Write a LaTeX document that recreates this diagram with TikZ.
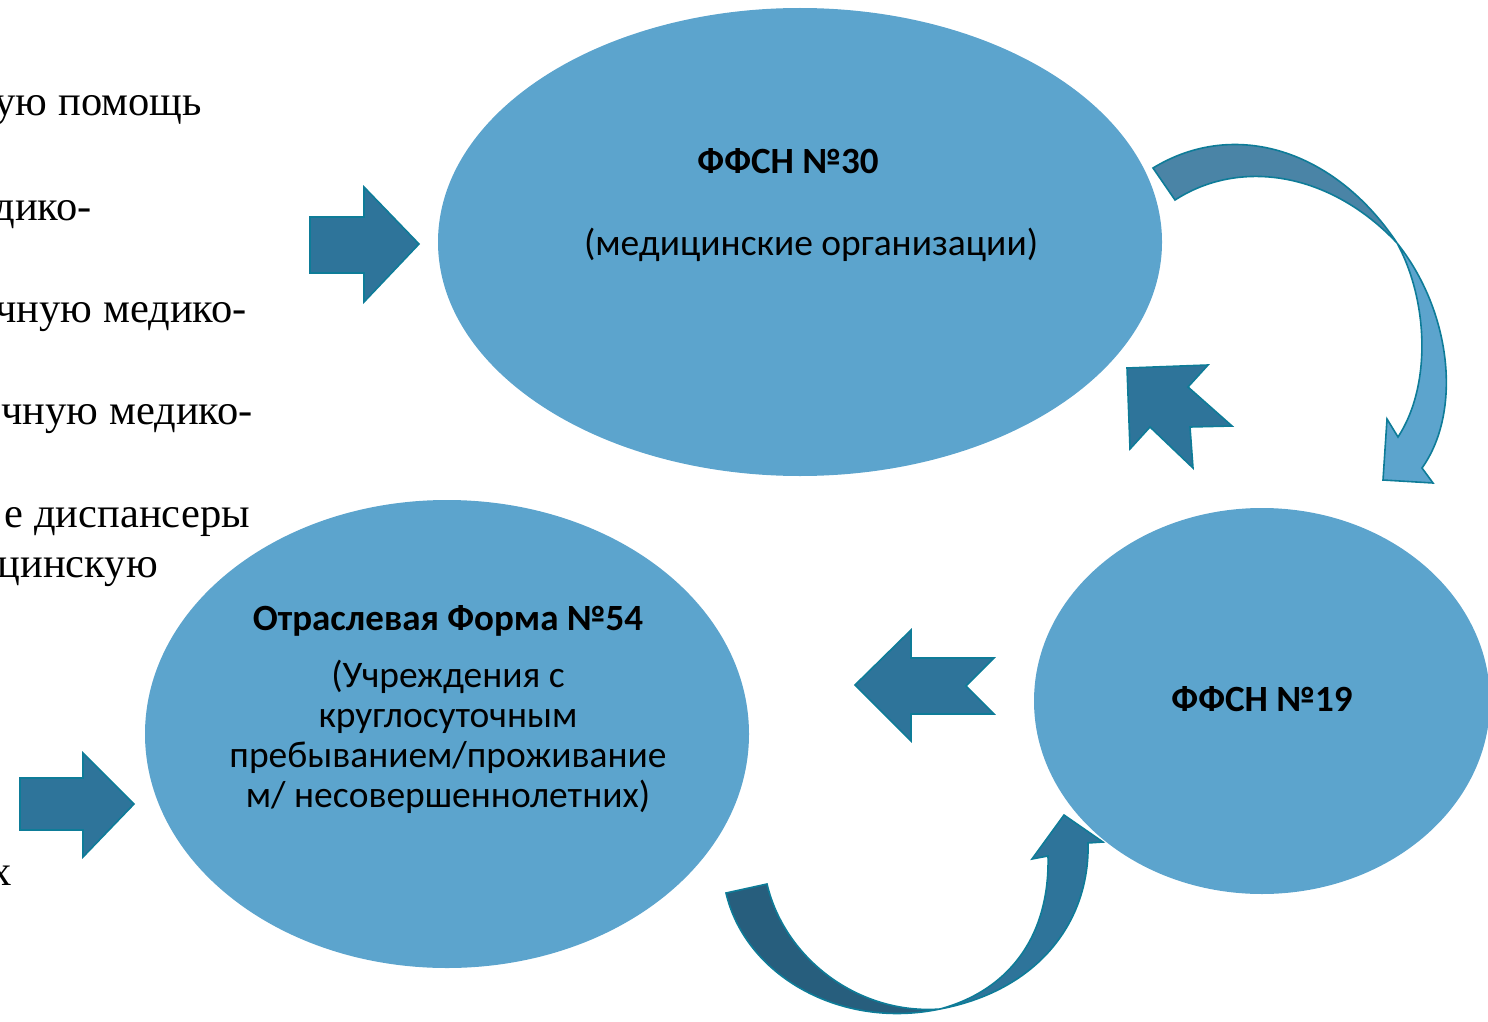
\documentclass[tikz,border=0pt]{standalone}
\usepackage{fontspec}
\setmainfont{Liberation Serif}
\newfontfamily\calibri{Carlito}
\usepackage{xcolor}
\usepackage{tikz}
\usetikzlibrary{shapes.geometric}

\definecolor{ellfill}{RGB}{92,164,205}
\definecolor{arrdark}{RGB}{46,116,154}
\definecolor{arredge}{RGB}{14,124,152}
\definecolor{curvback}{RGB}{74,132,166}
\definecolor{curvdeep}{RGB}{39,94,125}

\begin{document}
\begin{tikzpicture}[x=1pt,y=-1pt]
        \tikzstyle{every node}+=[inner sep=0pt]
        \tikzstyle{oval}=[ellipse, fill=ellfill, draw=none]
        \tikzstyle{blockarr}=[fill=arrdark, draw=arredge, line width=1.6pt, line join=miter]
        \tikzstyle{lefttext}=[anchor=base east, font=\fontsize{42.5}{50}\selectfont]
        \tikzstyle{head}=[font=\calibri\bfseries\fontsize{37}{44}\selectfont]
        \tikzstyle{body}=[font=\calibri\fontsize{37.5}{40}\selectfont, align=center]
        \useasboundingbox (0,0) rectangle (1488,1022);
        \clip (0,0) rectangle (1488,1022);
        % cut-off list on the left
        \node [lefttext] (l1) at (202,116) {ую помощь};
        \node [lefttext] (l2) at (92,220) {дико-};
        \node [lefttext] (l3) at (247,322) {чную медико-};
        \node [lefttext] (l4) at (253,424) {чную медико-};
        \node [lefttext] (l5) at (250,527) {е диспансеры};
        \node [lefttext] (l6) at (158,577) {цинскую};
        \node [lefttext] (l7) at (12,885) {х};
        % ovals
        \node [oval, minimum width=724pt, minimum height=468pt] (f30) at (800,242) {};
        \node [oval, minimum width=604pt, minimum height=468pt] (f54) at (447,734) {};
        \node [oval, minimum width=456pt, minimum height=386pt] (f19) at (1262,701) {};
        \node [head] (f30t) at (788,161) {ФФСН №30};
        \node [body] (f30s) at (811,245) {(медицинские организации)};
        \node [head] (f54t) at (448,621) {Отраслевая Форма №54};
        \node [body] (f54s) at (448,737) {(Учреждения с\\круглосуточным\\пребыванием/проживание\\м/ несовершеннолетних)};
        \node [head] (f19t) at (1262,699) {ФФСН №19};
        % straight block arrows
        \draw [blockarr] (310,217) -- (364,217) -- (364,187) -- (419,244) -- (364,302) -- (364,273) -- (310,273) -- cycle;
        \draw [blockarr] (20,778) -- (83,778) -- (83,753) -- (134,804) -- (83,857) -- (83,830) -- (20,830) -- cycle;
        \draw [blockarr] (855,685) -- (911,630) -- (911,658) -- (994,658) -- (966,686) -- (994,714) -- (911,714) -- (911,741) -- cycle;
        \draw [blockarr] (1127,368) -- (1208,365) -- (1188,387) -- (1232,426) -- (1190,427) -- (1193,468) -- (1150,427) -- (1130,449) -- cycle;
        % curved arrow f30 -> f19
        \draw [blockarr, fill=curvback] (1153,168) .. controls (1235,118) and (1335,150) .. (1397,243)
              .. controls (1330,172) and (1240,158) .. (1175,200) -- cycle;
        \draw [blockarr, fill=ellfill] (1397,243) .. controls (1452,312) and (1462,412) .. (1422,468)
              -- (1433,483) -- (1383,480) -- (1387,419) -- (1398,437)
              .. controls (1432,385) and (1428,300) .. (1397,243) -- cycle;
        % curved arrow f54 -> f19
        \draw [blockarr, fill=curvdeep] (726,893) .. controls (745,975) and (840,1030) .. (940,1009)
              .. controls (860,1015) and (785,960) .. (767,884) -- cycle;
        \draw [blockarr] (940,1009) .. controls (1040,990) and (1090,920) .. (1088,843)
              -- (1103,842) -- (1064,815) -- (1032,859) -- (1048,856)
              .. controls (1050,935) and (1010,990) .. (940,1009) -- cycle;
\end{tikzpicture}
\end{document}
